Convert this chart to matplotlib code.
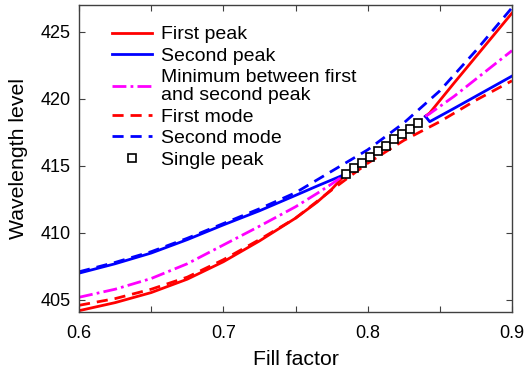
import numpy as np
import matplotlib
matplotlib.use('Agg')
import matplotlib.pyplot as plt
from matplotlib.ticker import MultipleLocator

plt.rcParams['font.family'] = ['Liberation Sans', 'DejaVu Sans']

# branches before the peaks merge
x_left = [0.60, 0.625, 0.65, 0.675, 0.70, 0.725, 0.75, 0.765, 0.775, 0.785]
first_peak_left = [404.2, 404.8, 405.55, 406.55, 407.85, 409.4, 411.1, 412.3, 413.25, 414.4]
second_peak_left = [407.0, 407.7, 408.5, 409.5, 410.6, 411.65, 412.8, 413.5, 413.95, 414.4]
minimum_left = [405.2, 405.8, 406.6, 407.7, 409.1, 410.5, 411.95, 412.95, 413.65, 414.4]

# branches after the split
x_right = [0.84, 0.843, 0.86, 0.88, 0.90]
first_peak_right = [418.7, 418.95, 421.2, 423.8, 426.4]
second_peak_right = [418.7, 418.3, 419.3, 420.5, 421.7]
minimum_right = [418.7, 418.9, 420.2, 421.9, 423.6]

# modes over the full range
x_mode = [0.60, 0.625, 0.65, 0.675, 0.70, 0.725, 0.75, 0.775, 0.80, 0.825, 0.85, 0.875, 0.90]
first_mode = [404.6, 405.1, 405.8, 406.7, 408.0, 409.5, 411.1, 413.2, 415.2, 416.9, 418.3, 419.9, 421.35]
second_mode = [407.1, 407.8, 408.6, 409.6, 410.7, 411.8, 413.0, 414.6, 416.2, 418.2, 420.6, 423.6, 426.8]

# single peak region
x_single = [0.785, 0.7905, 0.796, 0.8015, 0.807, 0.8125, 0.818, 0.824, 0.8295, 0.835]
single_peak = [414.38, 414.83, 415.25, 415.65, 416.12, 416.51, 416.99, 417.39, 417.78, 418.19]

fig = plt.figure(figsize=(5.27, 3.73), dpi=100)
ax = fig.add_axes([0.150, 0.1635, 0.8215, 0.823])

lw = 2.0
dd = (5, 1.5, 1, 1.5)
l1, = ax.plot(x_left, first_peak_left, color='#ff0000', lw=lw, label='First peak')
ax.plot(x_right, first_peak_right, color='#ff0000', lw=lw)
l2, = ax.plot(x_left, second_peak_left, color='#0000ff', lw=lw, label='Second peak')
ax.plot(x_right, second_peak_right, color='#0000ff', lw=lw)
l3, = ax.plot(x_left, minimum_left, color='#ff00ff', lw=lw, dashes=dd,
              label='Minimum between first\nand second peak')
ax.plot(x_right, minimum_right, color='#ff00ff', lw=lw, dashes=dd)
l4, = ax.plot(x_mode, first_mode, color='#ff0000', lw=lw, dashes=(4, 2.5), label='First mode')
l5, = ax.plot(x_mode, second_mode, color='#0000ff', lw=lw, dashes=(4, 2.5), label='Second mode')
l6, = ax.plot(x_single, single_peak, ls='none', marker='s', ms=6, mfc='white',
              mec='black', mew=1.2, label='Single peak')

ax.set_xlim(0.6, 0.9)
ax.set_ylim(404.1, 427.0)
ax.xaxis.set_major_locator(MultipleLocator(0.1))
ax.xaxis.set_minor_locator(MultipleLocator(0.05))
ax.yaxis.set_major_locator(MultipleLocator(5))
ax.yaxis.set_minor_locator(MultipleLocator(5))
ax.tick_params(which='both', direction='in', top=True, right=True, length=4,
               width=0.8, color='#404040', labelsize=13)
ax.tick_params(axis='x', pad=9)
ax.tick_params(axis='y', pad=6)
for s in ax.spines.values():
    s.set_color('#404040')
    s.set_linewidth(1.0)

ax.set_xlabel('Fill factor', fontsize=15.3, labelpad=6)
ax.set_ylabel('Wavelength level', fontsize=15.3, labelpad=9)

leg = ax.legend(handles=[l1, l2, l3, l4, l5, l6], loc='upper left', frameon=False,
                fontsize=14, handlelength=2.06, handletextpad=0.46, labelspacing=0.2,
                borderaxespad=0.0, bbox_to_anchor=(0.058, 0.958))
for t in leg.get_texts():
    t.set_linespacing(1.1)

fig.savefig('out.png', dpi=100)
